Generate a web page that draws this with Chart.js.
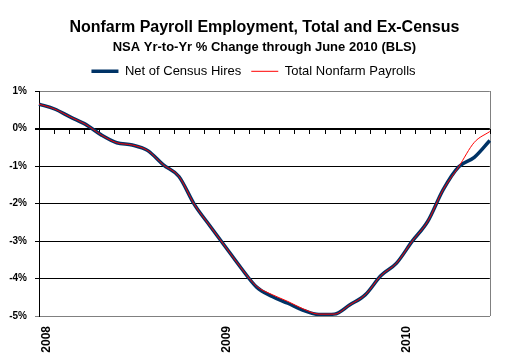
<!DOCTYPE html>
<html>
<head>
<meta charset="utf-8">
<script src="https://cdn.jsdelivr.net/npm/chart.js@4/dist/chart.umd.min.js"></script>
<style>
  html, body { margin: 0; padding: 0; background: #fff; }
  #wrap { width: 507px; height: 358px; position: relative; }
</style>
</head>
<body>
<div id="wrap"><canvas id="c"></canvas></div>
<script>
const months = [
  '2008-01','2008-02','2008-03','2008-04','2008-05','2008-06','2008-07','2008-08','2008-09','2008-10','2008-11','2008-12',
  '2009-01','2009-02','2009-03','2009-04','2009-05','2009-06','2009-07','2009-08','2009-09','2009-10','2009-11','2009-12',
  '2010-01','2010-02','2010-03','2010-04','2010-05','2010-06'
];
const netOfCensus = [
  0.65, 0.52, 0.31, 0.11, -0.17, -0.38, -0.44, -0.59, -0.97, -1.28, -2.03, -2.60,
  -3.16, -3.72, -4.23, -4.48, -4.66, -4.85, -4.96, -4.95, -4.70, -4.43, -3.92, -3.59,
  -3.01, -2.48, -1.63, -1.02, -0.77, -0.32
];
const totalNonfarm = [
  0.65, 0.52, 0.31, 0.11, -0.17, -0.38, -0.44, -0.59, -0.97, -1.28, -2.03, -2.60,
  -3.16, -3.72, -4.21, -4.43, -4.61, -4.81, -4.95, -4.95, -4.70, -4.43, -3.92, -3.59,
  -3.01, -2.48, -1.63, -1.02, -0.37, -0.08
];
const seriesNames = ['Net of Census Hires', 'Total Nonfarm Payrolls'];
const yTicks = [1, 0, -1, -2, -3, -4, -5];
const titleText = 'Nonfarm Payroll Employment, Total and Ex-Census';
const subtitleText = 'NSA Yr-to-Yr % Change through June 2010 (BLS)';

const FONT = '"Liberation Sans", Arial, sans-serif';
Chart.defaults.color = '#000';
Chart.defaults.font.family = FONT;

// Right plot border + category tick marks hanging below the 0% axis line
const frameAndZeroTicks = {
  id: 'frameAndZeroTicks',
  beforeDatasetsDraw(chart) {
    const a = chart.chartArea, ctx = chart.ctx;
    const xs = chart.scales.x, ys = chart.scales.y;
    ctx.save();
    ctx.strokeStyle = '#808080';
    ctx.lineWidth = 1;
    ctx.beginPath();
    ctx.moveTo(Math.round(a.right) + 0.5, a.top);
    ctx.lineTo(Math.round(a.right) + 0.5, a.bottom);
    ctx.stroke();
    const y0 = Math.round(ys.getPixelForValue(0));
    ctx.strokeStyle = '#000';
    ctx.beginPath();
    for (let i = 0; i <= months.length; i++) {
      const px = Math.round(xs.getPixelForValue(i - 0.5)) + 0.5;
      ctx.moveTo(px, y0);
      ctx.lineTo(px, y0 + 5);
    }
    ctx.stroke();
    ctx.restore();
  }
};

new Chart(document.getElementById('c'), {
  type: 'line',
  data: {
    labels: months,
    datasets: [
      { label: seriesNames[0], data: netOfCensus, borderColor: '#003366', backgroundColor: '#003366',
        borderWidth: 3.5, pointRadius: 0, cubicInterpolationMode: 'monotone', order: 1 },
      { label: seriesNames[1], data: totalNonfarm, borderColor: '#ff0000', backgroundColor: '#ff0000',
        borderWidth: 1, pointRadius: 0, cubicInterpolationMode: 'monotone', order: 0 }
    ]
  },
  options: {
    responsive: true,
    maintainAspectRatio: false,
    animation: false,
    layout: { padding: { left: 0, right: 0, top: 0, bottom: 0 } },
    plugins: {
      title: { display: true, fullSize: false, text: titleText, font: { size: 16, weight: 'bold', family: FONT },
               padding: { top: 18, bottom: 2 } },
      subtitle: { display: true, fullSize: false, text: subtitleText, font: { size: 13, weight: 'bold', family: FONT },
                  padding: { top: 0, bottom: 0 } },
      legend: {
        display: true,
        labels: {
          usePointStyle: true, pointStyle: 'line', pointStyleWidth: 27, padding: 10,
          font: { size: 13, family: FONT },
          sort: (a, b) => a.datasetIndex - b.datasetIndex
        }
      },
      tooltip: { enabled: false }
    },
    scales: {
      xTop: {
        type: 'category', position: 'top', display: true,
        grid: { display: false, drawTicks: false }, border: { display: false },
        ticks: { display: false },
        afterFit(s) { s.height = 3.2; }
      },
      x: {
        type: 'category', position: 'bottom', offset: true,
        grid: { display: false, drawTicks: false },
        border: { display: true, color: '#808080', width: 1 },
        ticks: {
          autoSkip: false, maxRotation: 90, minRotation: 90, padding: 10,
          font: { size: 12, weight: 'bold', family: FONT },
          callback: (v, i) => months[i].endsWith('-01') ? months[i].slice(0, 4) : ''
        },
        afterFit(s) { s.height = 42; }
      },
      y: {
        type: 'linear', min: -5, max: 1,
        afterBuildTicks(s) { s.ticks = yTicks.map(v => ({ value: v })); },
        grid: {
          color: c => (c.tick && (c.tick.value === 1 || c.tick.value === -5)) ? '#808080' : '#000',
          tickColor: c => (c.tick && c.tick.value === -5) ? '#808080' : '#000',
          lineWidth: c => (c.tick && c.tick.value === 0) ? 2 : 1,
          tickLength: 4
        },
        border: { display: true, color: '#000', width: 1 },
        ticks: {
          padding: 8, font: { size: 10, weight: 'bold', family: FONT },
          callback: v => v + '%'
        },
        afterFit(s) { s.width = 39; }
      },
      yRight: {
        type: 'linear', position: 'right', display: true,
        grid: { display: false, drawTicks: false }, border: { display: false },
        ticks: { display: false },
        afterFit(s) { s.width = 15; }
      }
    }
  },
  plugins: [frameAndZeroTicks]
});
</script>
</body>
</html>
